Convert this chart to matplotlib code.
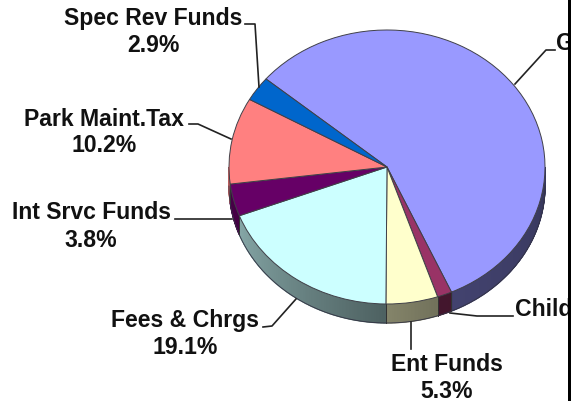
import numpy as np
import matplotlib
matplotlib.use("Agg")
import matplotlib.pyplot as plt
from matplotlib.colors import to_rgb

labels = ["G", "Child", "Ent Funds", "Fees & Chrgs", "Int Srvc Funds", "Park Maint.Tax", "Spec Rev Funds"]
shares = [57.2, 1.5, 5.3, 19.1, 3.8, 10.2, 2.9]
colors = ["#9999ff", "#993366", "#ffffcc", "#ccffff", "#660066", "#ff8080", "#0066cc"]
start_angle = 140

# pie geometry in pixels
W, H = 571, 402
cx, cy = 387, 168
rx, ry = 158, 137
depth = 19


def rim_shade(theta):
    # rim is lit from the left and falls off towards the front
    return np.interp(theta, [-180, -150, -90.01, -90, -70, 0], [0.75, 0.62, 0.38, 0.52, 0.44, 0.36])


fig = plt.figure(figsize=(W / 100, H / 100), dpi=100)
plt.rcParams["font.family"] = ["Liberation Sans", "DejaVu Sans"]

ax = fig.add_axes([0, 0, 1, 1])
edges = start_angle - np.cumsum([0] + shares) * 3.6

# rim below the top face, only the lower half shows
for i in range(len(shares)):
    lo, hi = max(edges[i + 1], -180), min(edges[i], 0)
    if hi <= lo:
        continue
    steps = np.linspace(lo, hi, max(int(hi - lo) * 2, 2) + 1)
    base = np.array(to_rgb(colors[i]))
    for s0, s1 in zip(steps[:-1], steps[1:]):
        tt = np.radians([s0, s1])
        xs = np.cos(tt)
        ys = np.sin(tt)
        c = base * rim_shade((s0 + s1) / 2)
        ax.fill([xs[0], xs[1], xs[1], xs[0]],
                [ys[0], ys[1], ys[1] - depth / ry, ys[0] - depth / ry],
                facecolor=c, edgecolor=c, lw=0.9, zorder=1)
    # slice joints on the rim
    for a in (lo, hi):
        if a in (-180, 0):
            continue
        x = np.cos(np.radians(a))
        y = np.sin(np.radians(a))
        ax.plot([x, x], [y, y - depth / ry], color="#333333", lw=0.7, zorder=2)

# outline of the rim bottom
tb = np.radians(np.linspace(-180, 0, 200))
ax.plot(np.cos(tb), np.sin(tb) - depth / ry, color="#333344", lw=0.6, zorder=2)

wedges, _ = ax.pie(shares, colors=colors, startangle=start_angle, counterclock=False,
                   radius=1, wedgeprops=dict(edgecolor="#404048", linewidth=0.7))
for w in wedges:
    w.set_zorder(3)

# squash the circle into the tilted ellipse
ax.set_aspect("auto")
ax.set_xlim(-cx / rx, (W - cx) / rx)
ax.set_ylim((cy - H) / ry, cy / ry)
ax.axis("off")

# overlay in pixel units for labels and leader lines
ov = fig.add_axes([0, 0, 1, 1], facecolor="none")
ov.set_xlim(0, W)
ov.set_ylim(H, 0)
ov.axis("off")

label_font = dict(fontsize=16.6, fontweight="bold", color="#111111", va="center")
value_labels = [
    ("Spec Rev Funds", "2.9%", 153, 19, 46),
    ("Park Maint.Tax", "10.2%", 104, 119, 146),
    ("Int Srvc Funds", "3.8%", 91, 213, 241),
    ("Fees & Chrgs", "19.1%", 185, 321, 348),
    ("Ent Funds", "5.3%", 447, 365, 392),
]
for name, val, x, y1, y2 in value_labels:
    ov.text(x, y1, name, ha="center", **label_font)
    ov.text(x, y2, val, ha="center", **label_font)
ov.text(515, 310, "Child", ha="left", **label_font)
ov.text(556, 44, "G", ha="left", **label_font)

leaders = [
    ([245, 255, 259], [25, 25, 88]),
    ([189, 198, 231], [125, 125, 140]),
    ([175, 232], [220, 220]),
    ([263, 272, 296], [328, 327, 300]),
    ([411, 411], [323, 350]),
    ([450, 477, 513], [314, 317, 317]),
    ([515, 546, 555], [85, 51, 51]),
]
for xs, ys in leaders:
    ov.plot(xs, ys, color="#222222", lw=1.2)

# dark strip down the right edge
ov.fill_between([568, W], 0, H, color="black", lw=0, zorder=5)

fig.savefig("out.png", dpi=100)
